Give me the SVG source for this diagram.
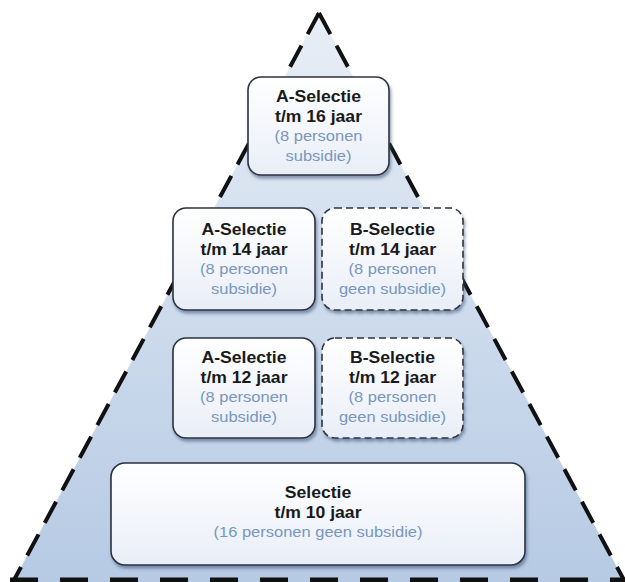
<svg xmlns="http://www.w3.org/2000/svg" width="625" height="582" viewBox="0 0 625 582">
<defs>
<linearGradient id="tri" x1="0" y1="0" x2="0" y2="1">
<stop offset="0" stop-color="#e8eef6"/>
<stop offset="1" stop-color="#b6cae4"/>
</linearGradient>
<linearGradient id="box" x1="0" y1="0" x2="0" y2="1">
<stop offset="0" stop-color="#ffffff"/>
<stop offset="1" stop-color="#e9eef7"/>
</linearGradient>
<filter id="sh" x="-10%" y="-10%" width="130%" height="130%">
<feDropShadow dx="1.5" dy="3" stdDeviation="1.5" flood-color="#3d5578" flood-opacity="0.55"/>
</filter>
<style>
.box{fill:url(#box);stroke:#2b3340;stroke-width:1.6;filter:url(#sh)}
.dash{stroke-dasharray:7 4}
.t1{font-family:"Liberation Sans",Arial,sans-serif;font-weight:bold;font-size:16px;fill:#1a1a1a;text-anchor:middle}
.t2{font-family:"Liberation Sans",Arial,sans-serif;font-size:15px;fill:#7896bf;text-anchor:middle}
.edge{fill:none;stroke:#111;stroke-width:4;stroke-dasharray:24 13}
</style>
</defs>
<g id="pyramid">
<polygon points="319,13 13,582 625,582" fill="url(#tri)"/>
<path class="edge" d="M319,13 L14,580"/>
<path class="edge" d="M319,13 L624,580"/>
<path d="M10,580 L625,580" fill="none" stroke="#111" stroke-width="5" stroke-dasharray="28 22"/>
</g>
<g id="a16">
<rect class="box" x="248" y="77" width="141" height="98" rx="13"/>
<g transform="translate(318.5,0) scale(1.1,1)">
<text class="t1" x="0" y="102">A-Selectie</text>
<text class="t1" x="0" y="122">t/m 16 jaar</text>
<text class="t2" x="0" y="141.5">(8 personen</text>
<text class="t2" x="0" y="161.5">subsidie)</text>
</g>
</g>
<g id="a14">
<rect class="box" x="173" y="208" width="142" height="102" rx="13"/>
<g transform="translate(244,0) scale(1.1,1)">
<text class="t1" x="0" y="235.5">A-Selectie</text>
<text class="t1" x="0" y="255">t/m 14 jaar</text>
<text class="t2" x="0" y="274.5">(8 personen</text>
<text class="t2" x="0" y="294">subsidie)</text>
</g>
</g>
<g id="b14">
<rect class="box dash" x="322" y="208" width="141" height="102" rx="13"/>
<g transform="translate(392.5,0) scale(1.1,1)">
<text class="t1" x="0" y="235.5">B-Selectie</text>
<text class="t1" x="0" y="255">t/m 14 jaar</text>
<text class="t2" x="0" y="274.5">(8 personen</text>
<text class="t2" x="0" y="294">geen subsidie)</text>
</g>
</g>
<g id="a12">
<rect class="box" x="173" y="338" width="142" height="100" rx="13"/>
<g transform="translate(244,0) scale(1.1,1)">
<text class="t1" x="0" y="363">A-Selectie</text>
<text class="t1" x="0" y="383">t/m 12 jaar</text>
<text class="t2" x="0" y="402.5">(8 personen</text>
<text class="t2" x="0" y="422">subsidie)</text>
</g>
</g>
<g id="b12">
<rect class="box dash" x="322" y="338" width="141" height="100" rx="13"/>
<g transform="translate(392.5,0) scale(1.1,1)">
<text class="t1" x="0" y="363">B-Selectie</text>
<text class="t1" x="0" y="383">t/m 12 jaar</text>
<text class="t2" x="0" y="402.5">(8 personen</text>
<text class="t2" x="0" y="422">geen subsidie)</text>
</g>
</g>
<g id="s10">
<rect class="box" x="111" y="463" width="414" height="102" rx="14"/>
<g transform="translate(318,0) scale(1.1,1)">
<text class="t1" x="0" y="498">Selectie</text>
<text class="t1" x="0" y="518">t/m 10 jaar</text>
<text class="t2" x="0" y="537.5">(16 personen geen subsidie)</text>
</g>
</g>
<g id="connectors"/>
</svg>
